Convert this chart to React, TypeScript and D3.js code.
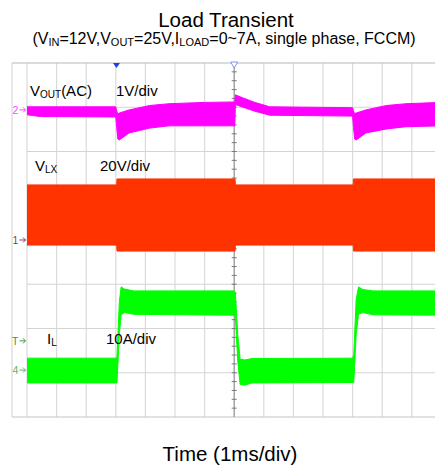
import React, { useEffect, useRef } from "react";
import * as d3 from "d3";

// time in ms (1ms/div); each row: [t, upper envelope, lower envelope]
const voutEnvelope = [
  [0, 0.07, -0.11], [0.45, 0.07, -0.15], [3.0, 0.07, -0.16], [3.03, -0.02, -0.4],
  [3.07, -0.09, -0.66], [3.12, -0.07, -0.68], [3.45, 0.0, -0.52], [4.15, 0.1, -0.41],
  [4.8, 0.14, -0.36], [6.0, 0.17, -0.36], [7.02, 0.18, -0.36], [7.04, 0.34, 0.12],
  [7.3, 0.27, 0.06], [7.7, 0.17, -0.03], [8.2, 0.07, -0.12], [11.0, 0.05, -0.14],
  [11.03, -0.02, -0.4], [11.07, -0.09, -0.66], [11.12, -0.07, -0.68], [11.45, 0.0, -0.52],
  [12.15, 0.1, -0.43], [12.8, 0.14, -0.38], [14, 0.17, -0.36],
];
const vlxEnvelope = [
  [0, 24.9, -2.3], [3.03, 24.9, -2.3], [3.04, 27.6, -5.0], [7.03, 27.6, -5.0],
  [7.04, 24.9, -2.3], [11.02, 24.9, -2.3], [11.03, 27.6, -5.0], [14, 27.6, -5.0],
];
const ilEnvelope = [
  [0, 2.7, -2.9], [3.0, 2.7, -2.9], [3.04, 3.0, -2.9], [3.12, 15.5, 8.0], [3.18, 18.8, 12.5],
  [3.3, 18.3, 13.0], [3.6, 17.9, 12.6], [7.0, 17.9, 12.4], [7.04, 17.5, 12.0], [7.12, 8.0, 2.0],
  [7.2, 2.5, -3.2], [7.35, 2.3, -3.4], [7.6, 2.6, -2.9], [11.0, 2.7, -2.8], [11.04, 3.5, -2.8],
  [11.12, 16.0, 8.0], [11.2, 18.8, 12.6], [11.35, 18.2, 13.0], [11.7, 17.9, 12.5], [14, 17.9, 12.4],
];

// channel: ground position (div from top), units per div
const channels = [
  { id: "2", offset: 1.06, perDiv: 1, color: "#ff00ff", mark: "#ff44ff", data: voutEnvelope },
  { id: "1", offset: 4.0, perDiv: 20, color: "#ff3300", mark: "#8a3a5a", data: vlxEnvelope },
  { id: "4", offset: 6.94, perDiv: 10, color: "#00ff00", mark: "#5fb35f", data: ilEnvelope },
];
const triggerLevel = 6.6; // A on IL
const triggerTime = 3.04;
const centerTime = 7;
const subtitleParts = [
  ["(V", 0], ["IN", 1], ["=12V,V", 0], ["OUT", 1], ["=25V,I", 0], ["LOAD", 1],
  ["=0~7A, single phase, FCCM)", 0],
];

export default function App() {
  const ref = useRef(null);

  useEffect(() => {
    document.body.style.margin = "0";
    const svg = d3.select(ref.current);
    svg.selectAll("*").remove();

    const w = 435, h = 468;
    const x = d3.scaleLinear().domain([0, 14]).range([27, 441.4]);
    const y = d3.scaleLinear().domain([0, 8]).range([63, 417]);
    const font = "Liberation Sans, Arial, sans-serif";

    svg.attr("width", w).attr("height", h).style("display", "block");

    // grid
    const g = svg.append("g");
    g.selectAll(".vg").data(d3.range(0, 15)).enter().append("line")
      .attr("x1", (d) => x(d)).attr("x2", (d) => x(d))
      .attr("y1", y(0)).attr("y2", y(8))
      .attr("stroke", "#dadada").attr("stroke-width", 1.2);
    g.selectAll(".hg").data(d3.range(1, 8)).enter().append("line")
      .attr("x1", x(0)).attr("x2", w)
      .attr("y1", (d) => y(d)).attr("y2", (d) => y(d))
      .attr("stroke", "#d4d4d4").attr("stroke-width", 1.2);
    // frame
    g.append("line").attr("x1", 12).attr("x2", w).attr("y1", y(0)).attr("y2", y(0))
      .attr("stroke", "#b8b8b8").attr("stroke-width", 1.2);
    g.append("line").attr("x1", 12).attr("x2", w).attr("y1", y(8)).attr("y2", y(8))
      .attr("stroke", "#c4c4c4").attr("stroke-width", 1.2);
    g.append("line").attr("x1", 12).attr("x2", 12).attr("y1", y(0)).attr("y2", y(8))
      .attr("stroke", "#d0d0d0").attr("stroke-width", 1);

    // center line with minor ticks
    g.append("line").attr("x1", x(centerTime)).attr("x2", x(centerTime))
      .attr("y1", y(0)).attr("y2", y(8)).attr("stroke", "#8a8a8a").attr("stroke-width", 1);
    g.selectAll(".tk").data(d3.range(1, 40)).enter().append("line")
      .attr("x1", x(centerTime) - 2.5).attr("x2", x(centerTime) + 2.5)
      .attr("y1", (d) => y(d / 5)).attr("y2", (d) => y(d / 5))
      .attr("stroke", "#7a7a7a").attr("stroke-width", 1);

    // traces
    svg.append("clipPath").attr("id", "plot").append("rect")
      .attr("x", x(0)).attr("y", y(0)).attr("width", w - x(0)).attr("height", y(8) - y(0));
    const traces = svg.append("g").attr("clip-path", "url(#plot)");
    channels.forEach((c) => {
      const yv = (v) => y(c.offset - v / c.perDiv);
      const area = d3.area()
        .x((d) => x(d[0]))
        .y0((d) => yv(d[2]))
        .y1((d) => yv(d[1]));
      traces.append("path").datum(c.data).attr("d", area)
        .attr("fill", c.color).attr("stroke", c.color).attr("stroke-width", 1);
    });

    // channel ground markers
    const marks = svg.append("g").attr("font-family", font).attr("font-size", 10.5);
    const arrow = (yy, col) => marks.append("path")
      .attr("d", `M19.5,${yy} L25.5,${yy} M23,${yy - 2.5} L25.5,${yy} L23,${yy + 2.5}`)
      .attr("stroke", col).attr("fill", "none").attr("stroke-width", 1);
    channels.forEach((c) => {
      const yy = y(c.offset);
      marks.append("text").attr("x", 12.5).attr("y", yy + 4).attr("fill", c.mark).text(c.id);
      arrow(yy, c.mark);
    });
    const il = channels[2];
    const ty = y(il.offset - triggerLevel / il.perDiv);
    marks.append("text").attr("x", 12).attr("y", ty + 4).attr("fill", "#3c9a3c").text("T");
    arrow(ty, "#3c9a3c");

    // trigger markers at top
    const tx = x(triggerTime) - 0.5;
    svg.append("path").attr("d", `M${tx - 3.5},${y(0)} L${tx + 3.5},${y(0)} L${tx},${y(0) + 5} Z`)
      .attr("fill", "#1f3fe0");
    const cx = x(centerTime);
    svg.append("path").attr("d", `M${cx - 3.5},${y(0) - 1} L${cx + 3.5},${y(0) - 1} L${cx},${y(0) + 5} Z`)
      .attr("fill", "#fff").attr("stroke", "#7d95f5").attr("stroke-width", 1);

    // labels
    const lab = svg.append("g").attr("font-family", font).attr("fill", "#000").attr("font-size", 15);
    const addSub = (px, py, main, sub, rest) => {
      const t = lab.append("text").attr("x", px).attr("y", py);
      t.append("tspan").text(main);
      t.append("tspan").attr("font-size", 10).attr("dy", 1.5).text(sub);
      if (rest) t.append("tspan").attr("dy", -1.5).text(rest);
    };
    addSub(30, 96, "V", "OUT", "(AC)");
    lab.append("text").attr("x", 116).attr("y", 96).text("1V/div");
    addSub(35, 171, "V", "LX");
    lab.append("text").attr("x", 100).attr("y", 171).text("20V/div");
    addSub(47, 344, "I", "L");
    lab.append("text").attr("x", 106).attr("y", 344).text("10A/div");

    // title, subtitle, x label
    svg.append("text").attr("x", 226).attr("y", 26.5).attr("text-anchor", "middle")
      .attr("font-family", font).attr("font-size", 20.5).text("Load Transient");
    const st = svg.append("text").attr("x", 224).attr("y", 44).attr("text-anchor", "middle")
      .attr("font-family", font).attr("font-size", 16);
    subtitleParts.forEach(([s, sub], i) => {
      st.append("tspan").attr("font-size", sub ? 11 : 16)
        .attr("dy", sub ? 1.5 : i > 0 ? -1.5 : 0)
        .text(s);
    });
    svg.append("text").attr("x", 230).attr("y", 461).attr("text-anchor", "middle")
      .attr("font-family", font).attr("font-size", 20.5).text("Time (1ms/div)");
  }, []);

  return <svg ref={ref}></svg>;
}
